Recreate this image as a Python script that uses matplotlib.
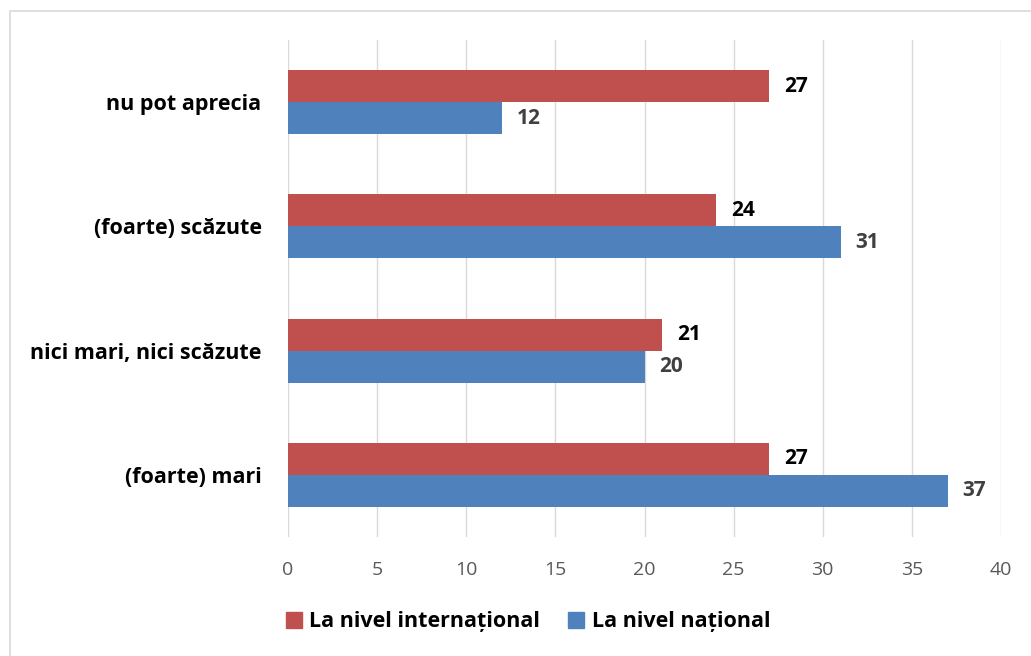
import matplotlib.pyplot as plt
from matplotlib.patches import Rectangle, Patch
import numpy as np

categories = ["(foarte) mari", "nici mari, nici scăzute", "(foarte) scăzute", "nu pot aprecia"]
international = [27, 21, 24, 27]
national = [37, 20, 31, 12]
series_names = ["La nivel internațional", "La nivel național"]

red = "#C0504D"
blue = "#4F81BD"

plt.rcParams["font.family"] = ["Open Sans", "DejaVu Sans"]

fig = plt.figure(figsize=(10.31, 6.56), dpi=100)
ax = fig.add_axes([288 / 1031, 1 - 537 / 656, (1001 - 288) / 1031, (537 - 40) / 656])

# chenar gri în jurul graficului
fig.patches.append(Rectangle((10 / 1031, -0.1), 1.2, 1 - 11 / 656 + 0.1,
                             transform=fig.transFigure, fill=False,
                             edgecolor="#D9D9D9", linewidth=1.2))

y = np.arange(len(categories))
h = 0.257
ax.barh(y + h / 2, international, height=h, color=red, label=series_names[0])
ax.barh(y - h / 2, national, height=h, color=blue, label=series_names[1])

for i in range(len(categories)):
    ax.text(international[i] + 0.85, y[i] + h / 2, str(international[i]),
            va="center", ha="left", fontsize=15, fontweight="bold", color="black")
    ax.text(national[i] + 0.85, y[i] - h / 2, str(national[i]),
            va="center", ha="left", fontsize=15, fontweight="bold", color="#404040")

ax.set_xlim(0, 40)
ax.set_ylim(-0.5, 3.5)
ax.set_xticks(range(0, 41, 5))
ax.set_yticks(y)
ax.set_yticklabels(categories, fontsize=15.5, fontweight="bold")
ax.tick_params(axis="x", labelsize=14, labelcolor="#595959", length=0, pad=17)
ax.tick_params(axis="y", length=0, pad=19)
ax.grid(axis="x", color="#D9D9D9", linewidth=1)
ax.set_axisbelow(True)
for s in ax.spines.values():
    s.set_visible(False)

handles = [Patch(color=red), Patch(color=blue)]
leg = fig.legend(handles, series_names, loc="center", bbox_to_anchor=(528 / 1031, 1 - 622 / 656),
                 ncol=2, frameon=False, handlelength=0.75, handleheight=0.75,
                 handletextpad=0.35, columnspacing=1.3,
                 prop={"size": 15.5, "weight": "bold"})

fig.savefig("out.png", dpi=100)
